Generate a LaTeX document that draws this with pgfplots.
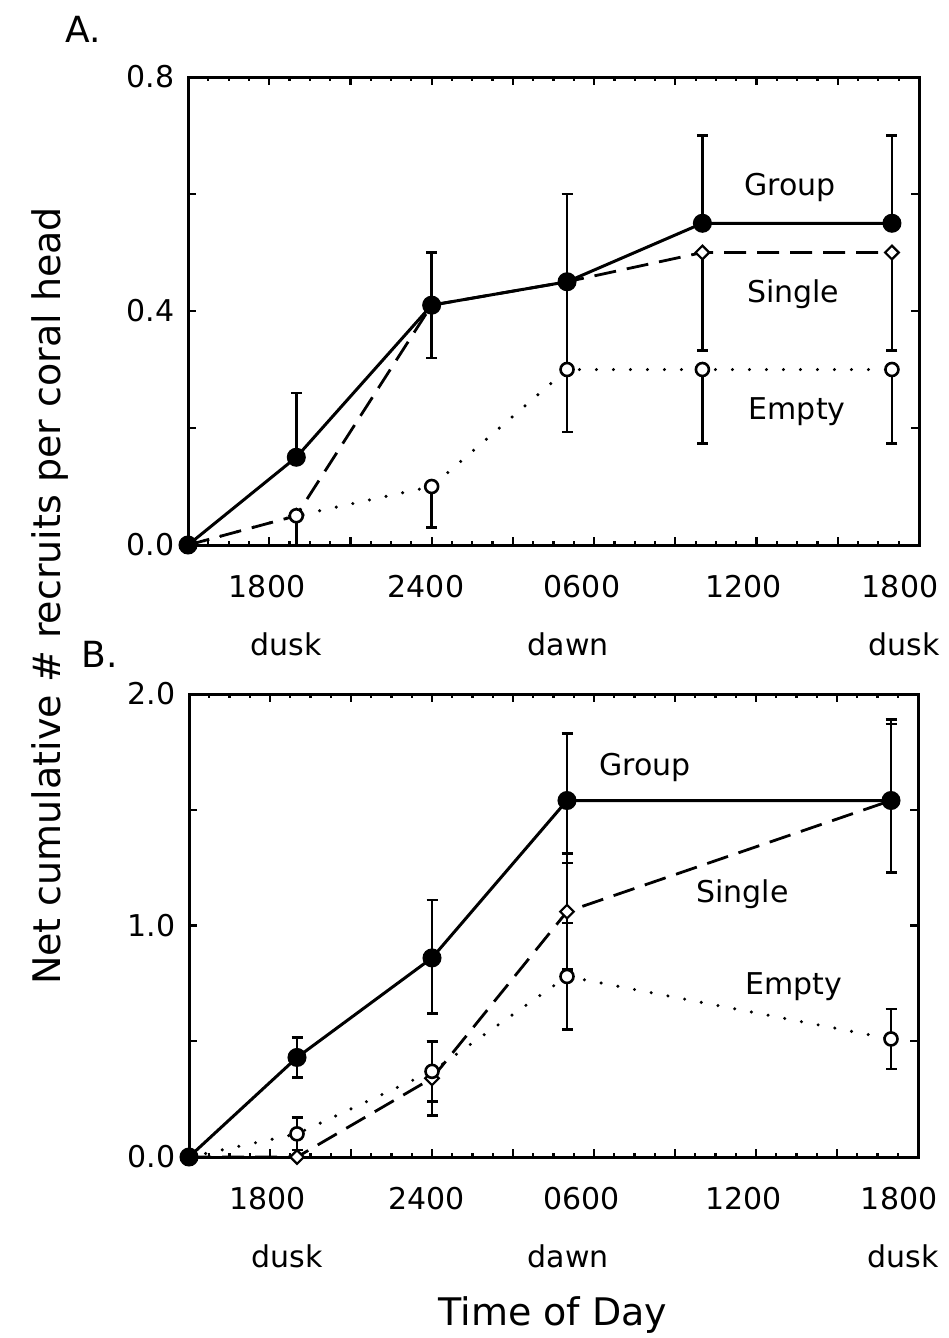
\documentclass[border=0pt]{standalone}
\usepackage{pgfplots}
\pgfplotsset{compat=1.18}
\usepackage{fontspec}
\setmainfont{DejaVu Sans}

\pgfplotsset{
  panel/.style={
    scale only axis, clip=false,
    xmin=0, xmax=27,
    xtick={0,3,...,27}, xticklabels={},
    minor x tick num=3,
    tick align=inside,
    major tick length=8pt, minor tick length=4pt,
    tick style={black, line width=2.2pt},
    axis line style={black, line width=3pt},
    yticklabel style={xshift=-10pt},
  },
  grp/.style={black, line width=3pt, solid, mark=*, mark size=8pt},
  sgl/.style={black, line width=2.8pt, dash pattern=on 22pt off 11pt,
    mark=square*, mark size=4.8pt,
    mark options={rotate=45, fill=white, solid, line width=2.2pt}},
  emp/.style={black, line width=3.4pt, line cap=round, dash pattern=on 0pt off 17pt,
    mark=*, mark size=6.5pt,
    mark options={fill=white, solid, line width=2.6pt}},
  ebar/.style={only marks, mark=none, black,
    error bars/y explicit,
    error bars/error bar style={line width=2.6pt, solid},
    error bars/error mark=|,
    error bars/error mark options={line width=2.6pt, mark size=5.5pt, solid}},
}

\newcommand{\timelabels}{%
  \node[anchor=base] at ([yshift=-52pt]axis cs:2.92,0) {1800};
  \node[anchor=base] at ([yshift=-52pt]axis cs:8.79,0) {2400};
  \node[anchor=base] at ([yshift=-52pt]axis cs:14.55,0) {0600};
  \node[anchor=base] at ([yshift=-52pt]axis cs:20.53,0) {1200};
  \node[anchor=base] at ([yshift=-52pt]axis cs:26.3,0) {1800};
  \node[anchor=base] at ([yshift=-110pt]axis cs:3.63,0) {dusk};
  \node[anchor=base] at ([yshift=-110pt]axis cs:14.04,0) {dawn};
  \node[anchor=base] at ([yshift=-110pt]axis cs:26.45,0) {dusk};
}

\begin{document}
\begin{tikzpicture}[every node/.append style={font=\fontsize{30}{36}\selectfont}]

% ---------------- Panel A ----------------
\begin{axis}[panel, at={(188pt,-545pt)}, anchor=south west,
  width=731pt, height=468pt,
  ymin=0, ymax=0.8,
  ytick={0,0.2,0.4,0.6,0.8}, yticklabels={0.0,,0.4,,0.8}]

% error bars
\addplot[ebar, error bars/y dir=plus] coordinates {
  (4,0.15) +- (0,0.11)  (9,0.41) +- (0,0.09)  (14,0.45) +- (0,0.15)
  (19,0.55) +- (0,0.15) (26,0.55) +- (0,0.15)};
\addplot[ebar, error bars/y dir=minus] coordinates {
  (9,0.41) +- (0,0.09)  (14,0.45) +- (0,0.15)};
\addplot[ebar, error bars/y dir=minus] coordinates {
  (19,0.50) +- (0,0.167) (26,0.50) +- (0,0.167)};
\addplot[ebar, error bars/y dir=minus] coordinates {
  (4,0.05) +- (0,0.05) (9,0.10) +- (0,0.07) (14,0.30) +- (0,0.107)
  (19,0.30) +- (0,0.126) (26,0.30) +- (0,0.126)};

% Single
\addplot[sgl] coordinates {(0,0) (4,0.05) (9,0.41) (14,0.45) (19,0.50) (26,0.50)};
% Empty
\addplot[emp] coordinates {(0,0) (4,0.05) (9,0.10) (14,0.30) (19,0.30) (26,0.30)};
% Group
\addplot[grp] coordinates {(0,0) (4,0.15) (9,0.41) (14,0.45) (19,0.55) (26,0.55)};

\node[anchor=base] at (axis cs:22.24,0.598) {Group};
\node[anchor=base] at (axis cs:22.35,0.414) {Single};
\node[anchor=base] at (axis cs:22.50,0.214) {Empty};
\timelabels
\end{axis}

% ---------------- Panel B ----------------
\begin{axis}[panel, at={(189pt,-1157pt)}, anchor=south west,
  width=729pt, height=463pt,
  ymin=0, ymax=2.0,
  ytick={0,0.5,1,1.5,2}, yticklabels={0.0,,1.0,,2.0}]

% error bars
\addplot[ebar, error bars/y dir=both] coordinates {
  (4,0.43) +- (0,0.087)};
\addplot[ebar, error bars/y dir=plus] coordinates {
  (9,0.86) +- (0,0.25) (14,1.54) +- (0,0.29) (26,1.54) +- (0,0.33)};
\addplot[ebar, error bars/y dir=minus] coordinates {
  (9,0.86) +- (0,0.24) (14,1.54) +- (0,0.27) (26,1.54) +- (0,0.31)};
\addplot[ebar, error bars/y dir=both] coordinates {
  (9,0.34) +- (0,0.16) (14,1.06) +- (0,0.25)};
\addplot[ebar, error bars/y dir=plus] coordinates {
  (26,1.54) +- (0,0.35)};
\addplot[ebar, error bars/y dir=both] coordinates {
  (4,0.10) +- (0,0.07) (9,0.37) +- (0,0.13) (14,0.78) +- (0,0.23)
  (26,0.51) +- (0,0.13)};

% Single
\addplot[sgl] coordinates {(0,0) (4,0.0) (9,0.34) (14,1.06) (26,1.54)};
% Empty
\addplot[emp] coordinates {(0,0) (4,0.10) (9,0.37) (14,0.78) (26,0.51)};
% Group
\addplot[grp] coordinates {(0,0) (4,0.43) (9,0.86) (14,1.54) (26,1.54)};

\node[anchor=base] at (axis cs:16.9,1.65) {Group};
\node[anchor=base] at (axis cs:20.5,1.10) {Single};
\node[anchor=base] at (axis cs:22.4,0.70) {Empty};
\timelabels
\end{axis}

% panel letters and shared axis titles
\node[font=\fontsize{36}{42}\selectfont] at (83pt,-29pt) {A.};
\node[font=\fontsize{36}{42}\selectfont] at (100pt,-654pt) {B.};
\node[anchor=base, rotate=90, font=\fontsize{38}{44}\selectfont]
  at (60pt,-596pt) {Net cumulative \# recruits per coral head};
\node[anchor=base, font=\fontsize{38}{44}\selectfont]
  at (553pt,-1325pt) {Time of Day};

\pgfresetboundingbox
\path[use as bounding box] (0pt,0pt) rectangle (949pt,-1338pt);
\end{tikzpicture}
\end{document}
